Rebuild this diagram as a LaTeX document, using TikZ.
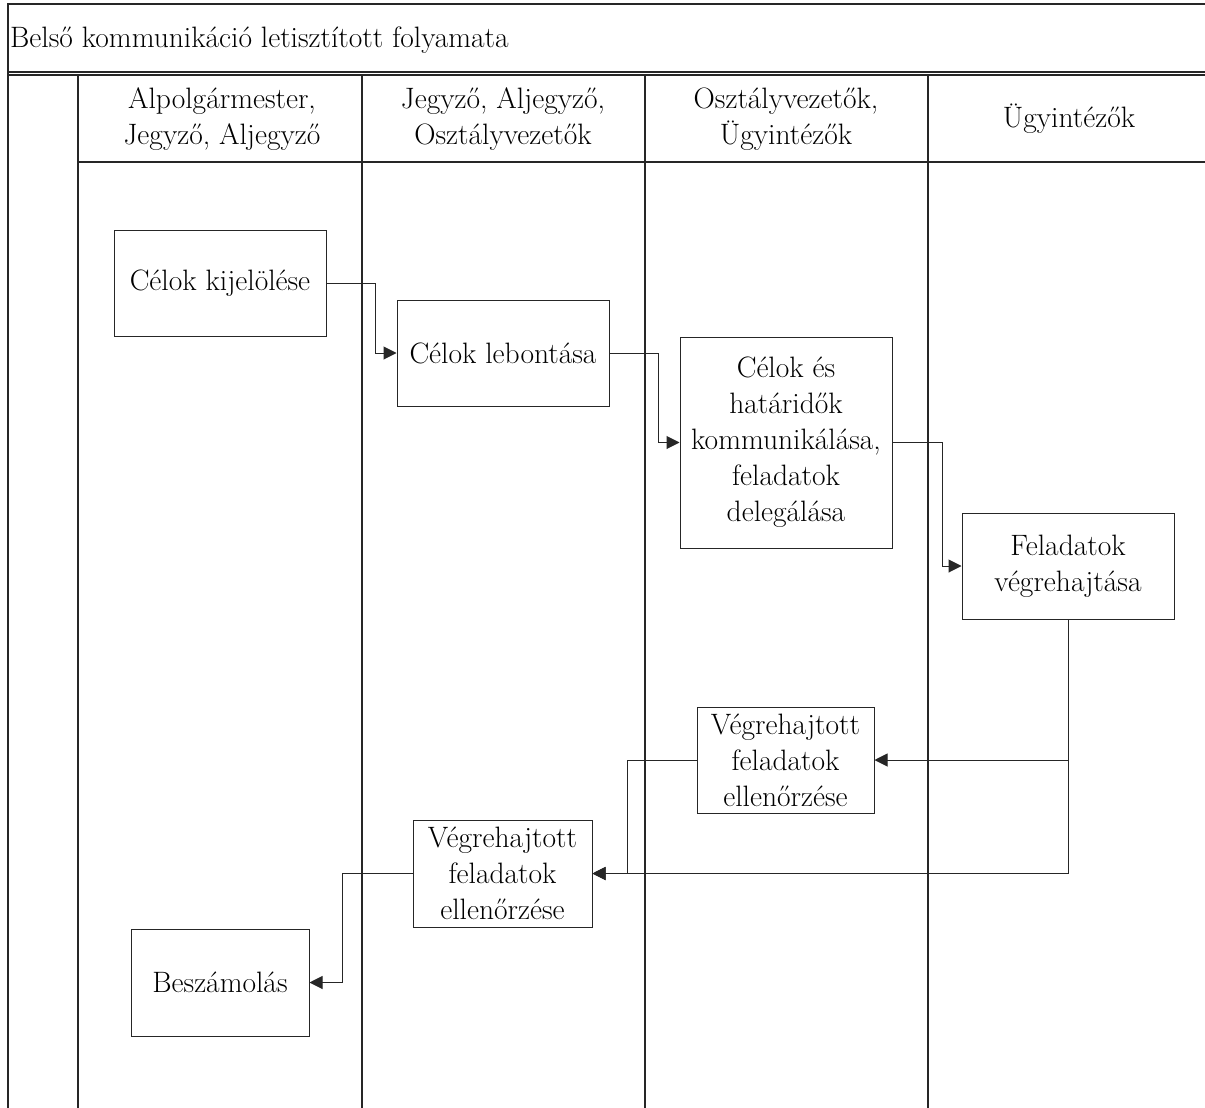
\documentclass[tikz,border=0pt]{standalone}
\usetikzlibrary{arrows.meta}
\begin{document}
\begin{tikzpicture}[x=1pt,y=-1pt,
  frame/.style={line width=1.2pt,draw=black!85},
  stepbox/.style={draw=black!85,line width=1pt,inner sep=0pt,align=center,
    minimum width=212pt,minimum height=106pt},
  checkbox/.style={stepbox,minimum width=178pt,minimum height=106pt},
  lanehead/.style={align=center,inner sep=0pt},
  flow/.style={draw=black!85,line width=1pt,-{Triangle[length=13pt,width=13pt]}},
  every node/.style={font=\fontsize{29.5}{36}\selectfont}]
\useasboundingbox (0,0) rectangle (1205,1108);
\fill[white] (0,0) rectangle (1205,1108);

% pool frame, title bar and lane header
\draw[frame] (1205,4) -- (8,4) -- (8,1108);
\draw[frame] (8,72) -- (1205,72);
\draw[frame] (8,75) -- (1205,75);
\draw[frame] (78,162) -- (1205,162);
\foreach \lx in {78,362,645,928}
  \draw[frame] (\lx,75) -- (\lx,1108);

\node[anchor=west,inner sep=0pt] (title) at (10,40)
  {Belső kommunikáció letisztított folyamata};

\node[lanehead] (h1) at (222,119) {Alpolgármester,\\Jegyző, Aljegyző};
\node[lanehead] (h2) at (503,119) {Jegyző, Aljegyző,\\Osztályvezetők};
\node[lanehead] (h3) at (786,119) {Osztályvezetők,\\Ügyintézők};
\node[lanehead] (h4) at (1069,119) {Ügyintézők};

% process steps
\node[stepbox] (b1) at (220,283) {Célok kijelölése};
\node[stepbox] (b2) at (503,353) {Célok lebontása};
\node[stepbox,minimum height=211pt] (b3) at (786,442.5)
  {Célok és\\határidők\\kommunikálása,\\feladatok\\delegálása};
\node[stepbox] (b4) at (1068,566) {Feladatok\\végrehajtása};
\node[checkbox,minimum width=177pt] (v1) at (785.5,760) {Végrehajtott\\feladatok\\ellenőrzése};
\node[checkbox,minimum width=179pt,minimum height=107pt] (v2) at (502.5,873.5) {Végrehajtott\\feladatok\\ellenőrzése};
\node[checkbox,minimum height=107pt] (bsz) at (220,982.5) {Beszámolás};

% connectors
\draw[flow] (b1.east) -- ++(49,0) |- (b2.west);
\draw[flow] (b2.east) -- ++(49,0) |- (b3.west);
\draw[flow] (b3.east) -- ++(50,0) |- (b4.west);
\draw[flow] (b4.south) |- (v1.east);
\draw[flow] (b4.south) |- (v2.east);
\draw[flow] (v1.west) -- ++(-69,0) |- (v2.east);
\draw[flow] (v2.west) -- ++(-70,0) |- (bsz.east);
\end{tikzpicture}
\end{document}
